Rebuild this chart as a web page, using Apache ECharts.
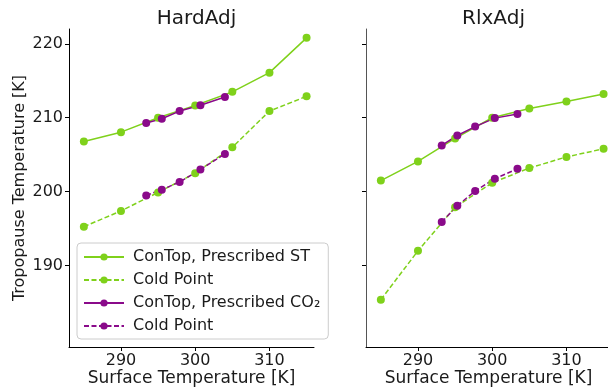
<!DOCTYPE html>
<html>
<head>
<meta charset="utf-8">
<script src="https://cdn.jsdelivr.net/npm/echarts@6/dist/echarts.min.js"></script>
<style>
  html, body { margin: 0; padding: 0; background: #fff; }
  #main { width: 608px; height: 389px; }
</style>
</head>
<body>
<div id="main"></div>
<script>
  // surface temperatures of the prescribed-ST runs
  const stX = [285, 290, 295, 300, 305, 310, 315];
  // HardAdj panel
  const hardST = [206.8, 208.05, 210.0, 211.66, 213.5, 216.1, 220.8];
  const hardSTCold = [195.27, 197.4, 199.9, 202.5, 206.0, 210.9, 212.9];
  const hardCO2X = [293.4, 295.5, 297.9, 300.7, 304.0];
  const hardCO2 = [209.3, 209.86, 210.9, 211.7, 212.8];
  const hardCO2Cold = [199.5, 200.27, 201.3, 203.0, 205.1];
  // RlxAdj panel
  const rlxST = [201.5, 204.1, 207.2, 210.0, 211.25, 212.2, 213.2];
  const rlxSTCold = [185.4, 192.0, 197.9, 201.2, 203.2, 204.7, 205.8];
  const rlxCO2X = [293.2, 295.3, 297.7, 300.35, 303.4];
  const rlxCO2 = [206.26, 207.6, 208.8, 209.95, 210.5];
  const rlxCO2Cold = [195.9, 198.1, 200.1, 201.75, 203.1];

  const xTicks = [290, 300, 310];
  const yTicks = [190, 200, 210, 220];
  const panelTitles = ['HardAdj', 'RlxAdj'];

  const legendNames = {
    stTop: 'ConTop, Prescribed ST',
    stCold: 'Cold Point',
    co2Top: 'ConTop, Prescribed CO₂',
    co2Cold: 'Cold Point'
  };

  const GREEN = '#7fd11b';
  const PURPLE = '#8a0a8a';
  const FONT = 'DejaVu Sans';
  const TXT = '#1a1a1a';

  const pairs = (xs, ys) => xs.map((x, i) => [x, ys[i]]);

  function mkSeries(name, idx, xs, ys, color, dashed) {
    return {
      name: name,
      type: 'line',
      xAxisIndex: idx,
      yAxisIndex: idx,
      data: pairs(xs, ys),
      symbol: 'circle',
      symbolSize: 8,
      itemStyle: { color: color },
      lineStyle: { color: color, width: 1.5, type: dashed ? [5, 2.5] : 'solid' },
      emphasis: { disabled: true },
      animation: false
    };
  }

  function mkX(idx) {
    return {
      type: 'value', gridIndex: idx, min: 283, max: 316,
      name: 'Surface Temperature [K]', nameLocation: 'middle', nameGap: 23,
      nameMoveOverlap: false,
      nameTextStyle: { fontFamily: FONT, fontSize: 17, color: TXT },
      splitLine: { show: false },
      axisLine: { show: true, onZero: false, lineStyle: { color: '#000', width: 1 } },
      axisTick: { show: true, length: 4, customValues: xTicks, lineStyle: { color: '#000' } },
      axisLabel: { customValues: xTicks, margin: 6, fontFamily: FONT, fontSize: 16, color: TXT }
    };
  }

  function mkY(idx) {
    return {
      type: 'value', gridIndex: idx, min: 179, max: 222,
      name: idx === 0 ? 'Tropopause Temperature [K]' : '',
      nameLocation: 'middle', nameGap: 41,
      nameMoveOverlap: false,
      nameTextStyle: { fontFamily: FONT, fontSize: 16, color: TXT },
      splitLine: { show: false },
      axisLine: { show: true, onZero: false, lineStyle: { color: idx === 0 ? '#000' : '#555', width: 1 } },
      axisTick: { show: true, length: 4, customValues: yTicks, lineStyle: { color: '#000' } },
      axisLabel: { show: idx === 0, customValues: yTicks, margin: 6, fontFamily: FONT, fontSize: 16, color: TXT }
    };
  }

  const chart = echarts.init(document.getElementById('main'), null, { renderer: 'canvas' });
  chart.setOption({
    backgroundColor: '#fff',
    animation: false,
    title: panelTitles.map((t, i) => ({
      text: t,
      left: i === 0 ? 191.5 : 488.5,
      top: 4,
      textAlign: 'center',
      textStyle: { fontFamily: FONT, fontSize: 20, fontWeight: 'normal', color: TXT }
    })),
    grid: [
      { left: 69, top: 29, width: 245, height: 318, outerBoundsMode: 'none' },
      { left: 366, top: 29, width: 245, height: 318, outerBoundsMode: 'none' }
    ],
    xAxis: [mkX(0), mkX(1)],
    yAxis: [mkY(0), mkY(1)],
    legend: {
      data: ['stTop', 'stCold', 'co2Top', 'co2Cold'],
      orient: 'vertical',
      left: 77, top: 243,
      itemWidth: 40, itemHeight: 9, itemGap: 7,
      padding: [6, 8, 5, 6],
      backgroundColor: 'rgba(255,255,255,0.85)',
      borderColor: '#cccccc', borderWidth: 1, borderRadius: 4,
      selectedMode: false,
      formatter: n => legendNames[n],
      textStyle: { fontFamily: FONT, fontSize: 16, color: TXT, padding: [0, 0, 0, 4] }
    },
    series: [
      mkSeries('stTop', 0, stX, hardST, GREEN, false),
      mkSeries('stCold', 0, stX, hardSTCold, GREEN, true),
      mkSeries('co2Top', 0, hardCO2X, hardCO2, PURPLE, false),
      mkSeries('co2Cold', 0, hardCO2X, hardCO2Cold, PURPLE, true),
      mkSeries('stTop', 1, stX, rlxST, GREEN, false),
      mkSeries('stCold', 1, stX, rlxSTCold, GREEN, true),
      mkSeries('co2Top', 1, rlxCO2X, rlxCO2, PURPLE, false),
      mkSeries('co2Cold', 1, rlxCO2X, rlxCO2Cold, PURPLE, true)
    ]
  });
</script>
</body>
</html>
